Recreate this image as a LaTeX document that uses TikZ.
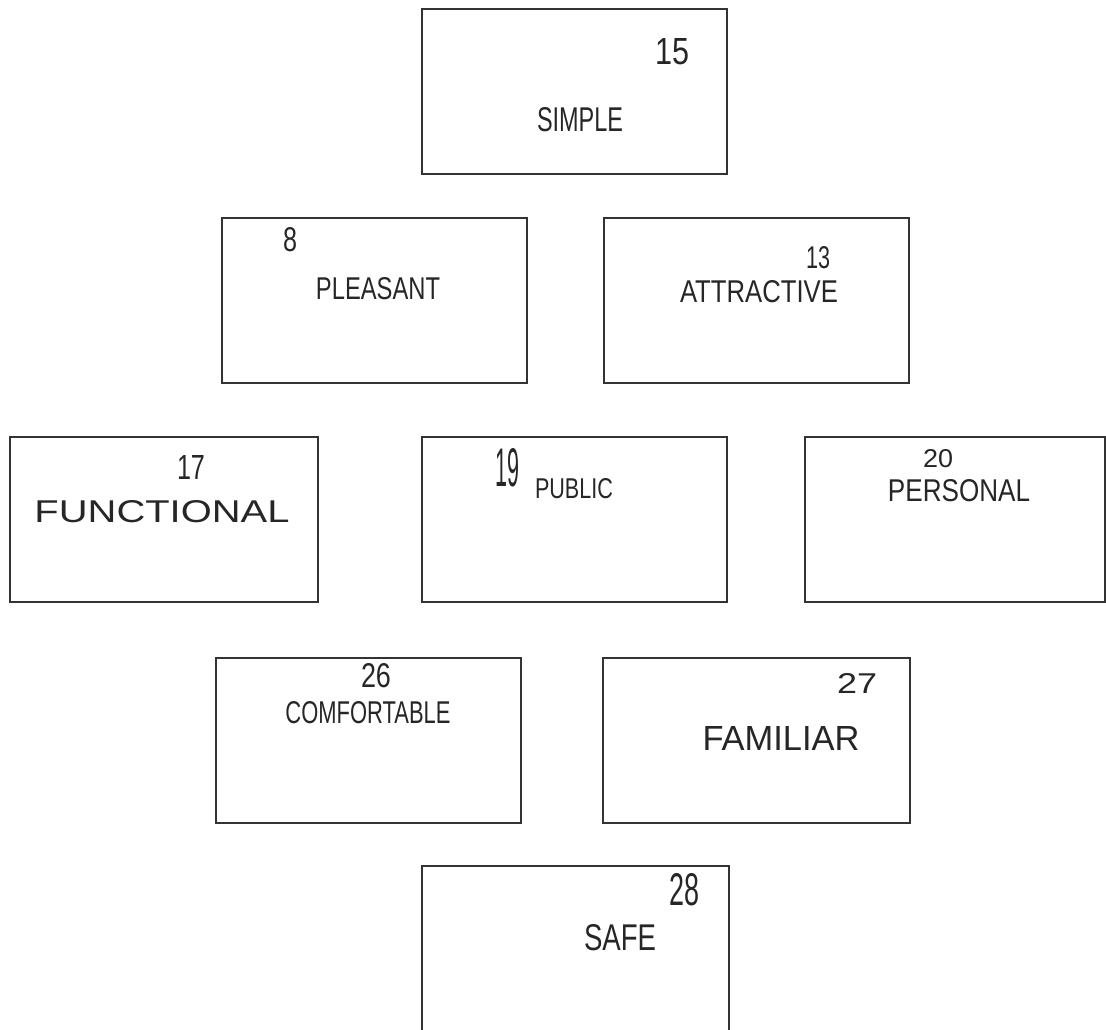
\documentclass[tikz,border=0pt]{standalone}
\usepackage{fontspec}
\setmainfont{Liberation Sans}
\usepackage{graphicx}
% handwritten-style label, stretched to a given width and height
\newcommand{\hwt}[3]{\resizebox{#1pt}{#2pt}{#3}}
\begin{document}
\begin{tikzpicture}[x=1pt,y=-1pt,
  card/.style={draw=black!80, line width=2pt, minimum width=305pt, minimum height=165pt, inner sep=0pt},
  word/.style={inner sep=0pt, text=black!85},
  num/.style={inner sep=0pt, text=black!85}]
\useasboundingbox (0,0) rectangle (1106,1030);

% cards
\node[card] (simple) at (574.5,92) {};
\node[card] (pleasant) at (374.5,300.5) {};
\node[card] (attractive) at (756,300.5) {};
\node[card, minimum width=308pt] (functional) at (164,519.5) {};
\node[card] (public) at (574.5,519.5) {};
\node[card, minimum width=300pt] (personal) at (955,519.5) {};
\node[card] (comfortable) at (368,740.5) {};
\node[card, minimum width=307pt] (familiar) at (756.5,740.5) {};
\node[card, minimum width=307pt, minimum height=180pt] (safe) at (575.5,956) {};

% words and scores
\node[word] (simpleW) at (580,120) {\hwt{86}{24}{SIMPLE}};
\node[num] (simpleN) at (672,52) {\hwt{34}{26}{15}};

\node[word] (pleasantW) at (378,289) {\hwt{124}{22}{PLEASANT}};
\node[num] (pleasantN) at (290,240) {\hwt{14}{24}{8}};

\node[word] (attractiveW) at (759,292) {\hwt{158}{22}{ATTRACTIVE}};
\node[num] (attractiveN) at (818,258) {\hwt{24}{22}{13}};

\node[word] (functionalW) at (162,512) {\hwt{255}{22}{FUNCTIONAL}};
\node[num] (functionalN) at (191,467) {\hwt{28}{24}{17}};

\node[word] (publicW) at (574,489) {\hwt{78}{20}{PUBLIC}};
\node[num] (publicN) at (507,468) {\hwt{24}{38}{19}};

\node[word] (personalW) at (959,491) {\hwt{142}{22}{PERSONAL}};
\node[num] (personalN) at (938,459) {\hwt{30}{18}{20}};

\node[word] (comfortableW) at (368,713) {\hwt{165}{22}{COMFORTABLE}};
\node[num] (comfortableN) at (376,676) {\hwt{30}{24}{26}};

\node[word] (familiarW) at (781,738) {\hwt{157}{24}{FAMILIAR}};
\node[num] (familiarN) at (857,683) {\hwt{40}{20}{27}};

\node[word] (safeW) at (620,938) {\hwt{72}{26}{SAFE}};
\node[num] (safeN) at (684,890) {\hwt{30}{32}{28}};
\end{tikzpicture}
\end{document}
